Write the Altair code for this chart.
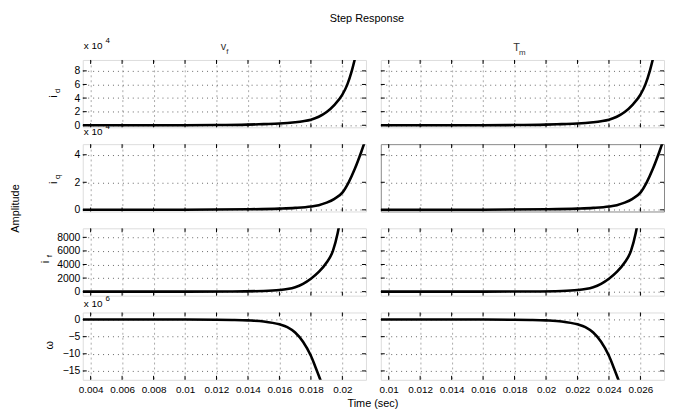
import altair as alt
import pandas as pd

FONT = "Liberation Sans"

# ---- axis ranges and ticks ----
x_dom_vf = [0.0035, 0.0215]
x_dom_tm = [0.0095, 0.0275]
x_ticks_vf = [0.004, 0.006, 0.008, 0.010, 0.012, 0.014, 0.016, 0.018, 0.020]
x_ticks_tm = [0.010, 0.012, 0.014, 0.016, 0.018, 0.020, 0.022, 0.024, 0.026]

y_dom_id = [-0.3, 9.6]
y_ticks_id = [0, 2, 4, 6, 8]
y_dom_iq = [-0.12, 4.77]
y_ticks_iq = [0, 2, 4]
y_dom_if = [-590, 9330]
y_ticks_if = [0, 2000, 4000, 6000, 8000]
y_dom_w = [-17.6, 2.06]
y_ticks_w = [-15, -10, -5, 0]

# ---- i_d (x 10^4) ----
t_id_vf = [0.0035, 0.010, 0.012, 0.014, 0.015, 0.016, 0.017, 0.0175, 0.018, 0.0185, 0.019, 0.0195, 0.020, 0.0203, 0.0206, 0.0208]
id_vf = [0, 0.01, 0.03, 0.10, 0.17, 0.25, 0.45, 0.60, 0.82, 1.25, 1.95, 3.0, 4.5, 5.9, 8.0, 9.8]
t_id_tm = [0.0095, 0.016, 0.018, 0.020, 0.021, 0.022, 0.023, 0.0235, 0.024, 0.0245, 0.025, 0.0255, 0.026, 0.0263, 0.0266, 0.0268]
id_tm = [0, 0.01, 0.03, 0.10, 0.17, 0.25, 0.45, 0.60, 0.82, 1.25, 1.95, 3.0, 4.5, 5.9, 8.0, 9.8]

# ---- i_q (x 10^4) ----
t_iq_vf = [0.0035, 0.010, 0.014, 0.016, 0.017, 0.018, 0.0185, 0.019, 0.0195, 0.020, 0.0204, 0.0208, 0.0212, 0.0215]
iq_vf = [0, 0.005, 0.04, 0.09, 0.14, 0.24, 0.34, 0.52, 0.80, 1.25, 2.0, 3.0, 4.2, 5.2]
t_iq_tm = [0.0095, 0.016, 0.020, 0.022, 0.023, 0.024, 0.0245, 0.025, 0.0255, 0.026, 0.0264, 0.0268, 0.0272, 0.0275]
iq_tm = [0, 0.005, 0.04, 0.09, 0.14, 0.24, 0.34, 0.52, 0.80, 1.25, 2.0, 3.0, 4.2, 5.2]

# ---- i_f ----
t_if_vf = [0.0035, 0.010, 0.013, 0.015, 0.016, 0.0165, 0.017, 0.0175, 0.018, 0.0185, 0.019, 0.0194, 0.0197, 0.0200]
if_vf = [0, 5, 30, 100, 230, 380, 650, 1150, 1900, 2900, 4300, 6000, 8600, 12500]
t_if_tm = [0.0095, 0.016, 0.019, 0.021, 0.022, 0.0225, 0.023, 0.0235, 0.024, 0.0245, 0.025, 0.0254, 0.0257, 0.0260]
if_tm = [0, 5, 30, 100, 230, 380, 650, 1150, 1900, 2900, 4300, 6000, 8600, 12500]

# ---- omega (x 10^6) ----
t_w_vf = [0.0035, 0.010, 0.012, 0.013, 0.014, 0.015, 0.016, 0.0165, 0.017, 0.0175, 0.018, 0.0183, 0.0186, 0.0189]
w_vf = [0, -0.01, -0.05, -0.12, -0.25, -0.55, -1.4, -2.2, -3.8, -6.5, -10.6, -14.0, -17.6, -21.5]
t_w_tm = [0.0095, 0.016, 0.018, 0.019, 0.020, 0.021, 0.022, 0.0225, 0.023, 0.0235, 0.024, 0.0243, 0.0246, 0.0249]
w_tm = [0, -0.01, -0.05, -0.12, -0.25, -0.55, -1.4, -2.2, -3.8, -6.5, -10.6, -14.0, -17.6, -21.5]

W, H = 286, 68


def txt(s, x, y, size=11, angle=0, align="center", color="black"):
    return alt.Chart(pd.DataFrame({"s": [s]})).mark_text(
        font=FONT, fontSize=size, angle=angle, align=align, baseline="middle", color=color
    ).encode(x=alt.value(x), y=alt.value(y), text="s:N")


def panel(t, v, xdom, xticks, ydom, yticks, show_x, show_y, texts=(), stroke=None):
    df = pd.DataFrame({"t": t, "v": v})
    xs = alt.Scale(domain=xdom, nice=False, zero=False)
    ys = alt.Scale(domain=ydom, nice=False, zero=False)
    xaxis = alt.Axis(values=xticks, tickCount=40, format=".3~f", grid=True, gridDash=[2, 3], gridColor="#aaaaaa",
                     labels=show_x, ticks=False, domain=False, title=None, labelOverlap=False,
                     labelFont=FONT, labelFontSize=10, labelPadding=5, labelColor="black")
    yaxis = alt.Axis(values=yticks, tickCount=40, format="d", grid=True, gridDash=[1, 4], gridColor="#666666",
                     labels=show_y, ticks=False, domain=False, title=None, labelOverlap=False,
                     labelFont=FONT, labelFontSize=10.5, labelPadding=3, labelColor="black")
    line = alt.Chart(df).mark_line(color="black", strokeWidth=2.6, clip=True, interpolate="monotone").encode(
        x=alt.X("t:Q", scale=xs, axis=xaxis),
        y=alt.Y("v:Q", scale=ys, axis=yaxis),
    )
    xt = pd.DataFrame({"t": xticks})
    yt = pd.DataFrame({"v": yticks})
    tk = []
    for a, b in [(0, 4), (H - 4, H)]:
        tk.append(alt.Chart(xt).mark_rule(color="black", strokeWidth=1).encode(
            x=alt.X("t:Q", scale=xs, title=None), y=alt.value(a), y2=alt.value(b)))
    for a, b in [(0, 4), (W - 4, W)]:
        tk.append(alt.Chart(yt).mark_rule(color="black", strokeWidth=1).encode(
            y=alt.Y("v:Q", scale=ys, title=None), x=alt.value(a), x2=alt.value(b)))
    ch = alt.layer(line, *tk, *texts).properties(width=W, height=H)
    if stroke:
        ch = ch.properties(view=alt.ViewBackground(stroke=stroke))
    return ch


def ylabel(main, sub, x, y):
    out = [txt(main, x, y + 3, size=11, angle=270)]
    if sub:
        out.append(txt(sub, x + 4, y - 3, size=8, angle=270))
    return out


def mult(exp, x, y):
    return [txt("x 10", x, y, size=10, align="left"), txt(exp, x + 22, y - 5, size=8, align="left")]


r1L = panel(t_id_vf, id_vf, x_dom_vf, x_ticks_vf, y_dom_id, y_ticks_id, False, True,
            texts=ylabel("i", "d", -29, 34) + mult("4", 1, -14) + [
                txt("Step Response", 287, -41, size=11),
                txt("v", 142, -13, size=11, color="#333333"),
                txt("f", 146, -8, size=8, color="#333333"),
            ])
r1R = panel(t_id_tm, id_tm, x_dom_tm, x_ticks_tm, y_dom_id, y_ticks_id, False, False,
            texts=[txt("T", 137, -12, size=11, color="#333333"),
                   txt("m", 143, -7, size=8, color="#333333")])

r2L = panel(t_iq_vf, iq_vf, x_dom_vf, x_ticks_vf, y_dom_iq, y_ticks_iq, False, True,
            texts=ylabel("i", "q", -29, 36) + mult("4", 1, -12) + [
                txt("Amplitude", -67, 65, size=11, angle=270)])
r2R = panel(t_iq_tm, iq_tm, x_dom_tm, x_ticks_tm, y_dom_iq, y_ticks_iq, False, False, stroke="#888888")

r3L = panel(t_if_vf, if_vf, x_dom_vf, x_ticks_vf, y_dom_if, y_ticks_if, False, True,
            texts=ylabel("i", "f", -37, 31))
r3R = panel(t_if_tm, if_tm, x_dom_tm, x_ticks_tm, y_dom_if, y_ticks_if, False, False)

r4L = panel(t_w_vf, w_vf, x_dom_vf, x_ticks_vf, y_dom_w, y_ticks_w, True, True,
            texts=[txt("ω", -33, 33, size=11, angle=270)] + mult("6", 1, -9) + [
                txt("Time (sec)", 293, 92, size=11)])
r4R = panel(t_w_tm, w_tm, x_dom_tm, x_ticks_tm, y_dom_w, y_ticks_w, True, False)

chart = alt.concat(r1L, r1R, r2L, r2R, r3L, r3R, r4L, r4R, columns=2,
                   spacing={"row": 17, "column": 15}, bounds="flush").properties(
    padding={"left": 1.5, "top": 2.5, "right": 0, "bottom": 0}
).configure_view(stroke="black", strokeWidth=1).configure(background="white")

chart.save("out.html", embed_options={"renderer": "svg", "actions": False})
